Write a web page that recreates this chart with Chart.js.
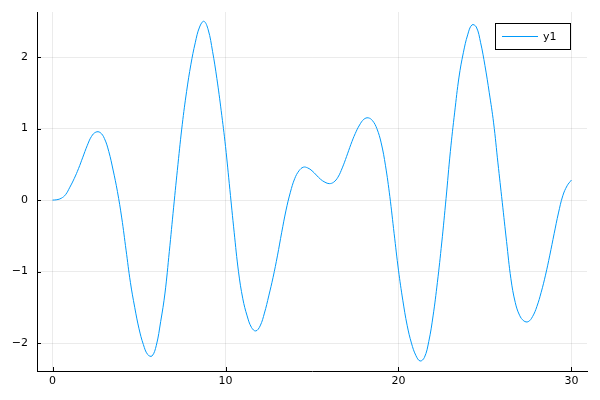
<!DOCTYPE html>
<html>
<head>
<meta charset="utf-8">
<script src="https://cdn.jsdelivr.net/npm/chart.js@4"></script>
<style>
  html, body { margin: 0; padding: 0; background: #ffffff; }
  canvas { display: block; }
</style>
</head>
<body>
<canvas id="c" width="600" height="400"></canvas>
<script>
// ---- data (x every 0.25) ----
const seriesName = "y1";
const xValues = [
  0, 0.25, 0.5, 0.75, 1, 1.25, 1.5, 1.75, 2, 2.25, 2.5, 2.75, 3, 3.25, 3.5, 3.75,
  4, 4.25, 4.5, 4.75, 5, 5.25, 5.5, 5.75, 6, 6.25, 6.5, 6.75, 7, 7.25, 7.5, 7.75,
  8, 8.25, 8.5, 8.75, 9, 9.25, 9.5, 9.75, 10, 10.25, 10.5, 10.75, 11, 11.25, 11.5, 11.75,
  12, 12.25, 12.5, 12.75, 13, 13.25, 13.5, 13.75, 14, 14.25, 14.5, 14.75, 15, 15.25, 15.5, 15.75,
  16, 16.25, 16.5, 16.75, 17, 17.25, 17.5, 17.75, 18, 18.25, 18.5, 18.75, 19, 19.25, 19.5, 19.75,
  20, 20.25, 20.5, 20.75, 21, 21.25, 21.5, 21.75, 22, 22.25, 22.5, 22.75, 23, 23.25, 23.5, 23.75,
  24, 24.25, 24.5, 24.75, 25, 25.25, 25.5, 25.75, 26, 26.25, 26.5, 26.75, 27, 27.25, 27.5, 27.75,
  28, 28.25, 28.5, 28.75, 29, 29.25, 29.5, 29.75, 30
];
const yValues = [
  0, 0.005, 0.025, 0.075, 0.18, 0.30, 0.44, 0.60, 0.76, 0.89, 0.95, 0.945, 0.86, 0.68, 0.42, 0.12,
  -0.25, -0.70, -1.15, -1.50, -1.80, -2.02, -2.16, -2.18, -2.03, -1.70, -1.30, -0.72, -0.10, 0.50, 1.06, 1.52,
  1.90, 2.20, 2.42, 2.50, 2.38, 2.08, 1.70, 1.25, 0.75, 0.15, -0.45, -1.00, -1.38, -1.62, -1.78, -1.83,
  -1.76, -1.58, -1.34, -1.08, -0.78, -0.45, -0.14, 0.11, 0.30, 0.41, 0.46, 0.45, 0.41, 0.35, 0.29, 0.25,
  0.23, 0.25, 0.32, 0.45, 0.61, 0.78, 0.93, 1.05, 1.13, 1.15, 1.11, 1.00, 0.80, 0.48, 0.05, -0.47,
  -0.98, -1.40, -1.75, -2.00, -2.17, -2.25, -2.20, -1.98, -1.62, -1.15, -0.60, 0.02, 0.68, 1.23, 1.72, 2.06,
  2.31, 2.45, 2.42, 2.20, 1.88, 1.50, 1.08, 0.52, -0.03, -0.58, -1.10, -1.43, -1.61, -1.69, -1.70, -1.63,
  -1.49, -1.29, -1.05, -0.77, -0.47, -0.18, 0.06, 0.20, 0.28
];
const xTickValues = [0, 10, 20, 30];
const yTickValues = [-2, -1, 0, 1, 2];

// ---- chart ----
const lineColor = "#009AFA";
const fontFamily = "'DejaVu Sans', sans-serif";

function fmt(v) {
  return v < 0 ? "\u2212" + Math.abs(v) : String(v);
}

const points = xValues.map((x, i) => ({ x: x, y: yValues[i] }));

const innerTicks = {
  id: "innerTicks",
  afterDraw(chart) {
    const ctx = chart.ctx;
    const xs = chart.scales.x, ys = chart.scales.y;
    const a = chart.chartArea;
    ctx.save();
    ctx.strokeStyle = "#000000";
    ctx.lineWidth = 1;
    ctx.beginPath();
    xs.ticks.forEach(t => {
      const px = Math.round(xs.getPixelForValue(t.value)) + 0.5;
      ctx.moveTo(px, a.bottom);
      ctx.lineTo(px, a.bottom - 4);
    });
    ys.ticks.forEach(t => {
      const py = Math.round(ys.getPixelForValue(t.value)) + 0.5;
      ctx.moveTo(a.left, py);
      ctx.lineTo(a.left + 4, py);
    });
    ctx.stroke();
    ctx.restore();
  }
};

const boxLegend = {
  id: "boxLegend",
  afterDraw(chart) {
    const ctx = chart.ctx;
    const ds = chart.data.datasets[0];
    const bx = 495.5, by = 23.5, bw = 75, bh = 26;
    ctx.save();
    ctx.fillStyle = "#ffffff";
    ctx.fillRect(bx, by, bw, bh);
    ctx.strokeStyle = "#000000";
    ctx.lineWidth = 1;
    ctx.strokeRect(bx, by, bw, bh);
    ctx.strokeStyle = ds.borderColor;
    ctx.lineWidth = 1;
    ctx.beginPath();
    ctx.moveTo(502, by + bh / 2);
    ctx.lineTo(538, by + bh / 2);
    ctx.stroke();
    ctx.fillStyle = "#000000";
    ctx.font = "11px " + fontFamily;
    ctx.textBaseline = "middle";
    ctx.textAlign = "left";
    ctx.fillText(ds.label, 543, by + bh / 2 + 0.5);
    ctx.restore();
  }
};

new Chart(document.getElementById("c"), {
  type: "line",
  data: {
    datasets: [{
      label: seriesName,
      data: points,
      borderColor: lineColor,
      backgroundColor: lineColor,
      borderWidth: 1,
      pointRadius: 0,
      fill: false,
      tension: 0.4
    }]
  },
  options: {
    responsive: false,
    animation: false,
    devicePixelRatio: 1,
    layout: { padding: { left: 0, right: 13, top: 12, bottom: 0 } },
    plugins: {
      legend: { display: false },
      tooltip: { enabled: false }
    },
    scales: {
      x: {
        type: "linear",
        min: -0.9,
        max: 30.9,
        afterBuildTicks(scale) { scale.ticks = xTickValues.map(v => ({ value: v })); },
        afterFit(scale) { scale.height = 29; scale.paddingLeft = 0; scale.paddingRight = 0; },
        ticks: {
          callback: v => fmt(v),
          color: "#000000",
          font: { family: fontFamily, size: 11 },
          padding: 4,
          maxRotation: 0
        },
        grid: { color: "rgba(0,0,0,0.08)", lineWidth: 1, drawTicks: false },
        border: { display: true, color: "#000000", width: 1 }
      },
      y: {
        type: "linear",
        min: -2.39,
        max: 2.63,
        afterBuildTicks(scale) { scale.ticks = yTickValues.map(v => ({ value: v })); },
        afterFit(scale) { scale.width = 37; scale.paddingTop = 0; scale.paddingBottom = 0; },
        ticks: {
          callback: v => fmt(v),
          color: "#000000",
          font: { family: fontFamily, size: 11 },
          padding: 9
        },
        grid: { color: "rgba(0,0,0,0.08)", lineWidth: 1, drawTicks: false },
        border: { display: true, color: "#000000", width: 1 }
      }
    }
  },
  plugins: [innerTicks, boxLegend]
});
</script>
</body>
</html>
